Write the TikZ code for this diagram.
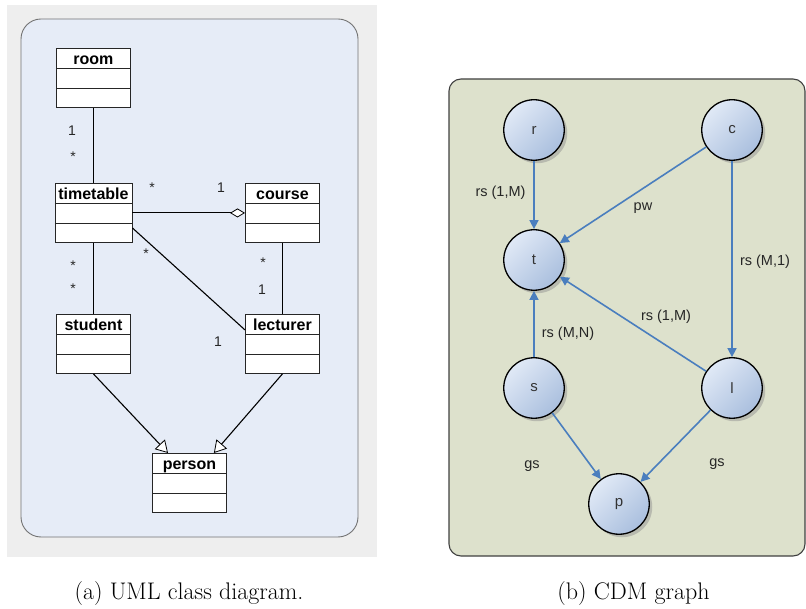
\documentclass[tikz,border=0pt]{standalone}
\usepackage{fontspec}
\newfontfamily\arial{Liberation Sans}
\usetikzlibrary{arrows.meta,shadows}
\definecolor{panelgray}{RGB}{238,238,238}
\definecolor{umlbg}{RGB}{230,236,247}
\definecolor{cdmbg}{RGB}{221,225,204}
\definecolor{edgeblue}{RGB}{74,126,190}
\definecolor{nodelight}{RGB}{224,233,246}
\definecolor{nodedark}{RGB}{170,191,222}
\begin{document}
\begin{tikzpicture}[x=1pt,y=-1pt,
  umlclass/.style={draw=black!85, fill=white, line width=0.9pt, anchor=north west,
    minimum width=74pt, inner xsep=0pt, inner ysep=0pt, text height=16pt, text depth=43pt,
    font=\arial\bfseries\fontsize{16}{16}\selectfont,
    path picture={\draw[line width=0.9pt,black!85]
      ([yshift=-20pt]path picture bounding box.north west) -- ([yshift=-20pt]path picture bounding box.north east)
      ([yshift=-40pt]path picture bounding box.north west) -- ([yshift=-40pt]path picture bounding box.north east);}},
  assoc/.style={draw=black, line width=1.1pt},
  gen/.style={assoc, -{Triangle[open,fill=white,length=12pt,width=14pt,line width=0.8pt]}},
  aggr/.style={assoc, -{Diamond[open,fill=white,length=15pt,width=9pt,line width=0.8pt]}},
  mult/.style={font=\arial\fontsize{14}{14}\selectfont, anchor=base, inner sep=0pt, text=black!85},
  cdm/.style={circle, draw=black, line width=1.3pt, minimum size=60.5pt, inner sep=0pt,
    top color=nodelight, bottom color=nodedark, shading angle=45,
    font=\arial\fontsize{15}{15}\selectfont, text=black!80,
    drop shadow={shadow xshift=3pt, shadow yshift=-3pt, fill=black!45, opacity=0.45}},
  cdmedge/.style={draw=edgeblue, line width=1.6pt, -{Triangle[length=9pt,width=9pt]}},
  lab/.style={font=\arial\fontsize{14.5}{14.5}\selectfont, inner sep=0pt, text=black!85},
  capt/.style={font=\fontsize{24}{28}\selectfont, anchor=base, inner sep=0pt}
]
\useasboundingbox (0,0) rectangle (806,609);

% panels
\fill[panelgray] (7,5) rectangle (377,557);
\draw[draw=black!55, fill=umlbg, rounded corners=20pt, line width=0.9pt] (21,19) rectangle (358,537);
\draw[draw=black!75, fill=cdmbg, rounded corners=12pt, line width=1.1pt] (449,79) rectangle (805,556);

% UML classes
\node[umlclass] (room) at (56,48) {room};
\node[umlclass, minimum width=77pt] (tt) at (54.5,183) {timetable};
\node[umlclass] (course) at (245,183) {course};
\node[umlclass] (student) at (56,314) {student};
\node[umlclass] (lect) at (245,314) {lecturer};
\node[umlclass] (person) at (152,453) {person};

% UML connectors
\draw[assoc] (room.south) -- (tt.north);
\draw[aggr] (tt.east) -- (course.west);
\draw[assoc] ([yshift=-15pt]tt.east) -- ([yshift=14pt]lect.west);
\draw[assoc] (course.south) -- (lect.north);
\draw[assoc] (tt.south) -- (student.north);
\draw[gen] (student.south) -- ([xshift=16pt]person.north west);
\draw[gen] (lect.south) -- ([xshift=-13pt]person.north east);

% multiplicities
\node[mult] (m1) at (72,136) {1};
\node[mult] (m2) at (73,162) {*};
\node[mult] (m3) at (152,193) {*};
\node[mult] (m4) at (221,193) {1};
\node[mult] (m5) at (146,259) {*};
\node[mult] (m6) at (263,268) {*};
\node[mult] (m7) at (262,295) {1};
\node[mult] (m8) at (73,271) {*};
\node[mult] (m9) at (73,294) {*};
\node[mult] (m10) at (218,347) {1};

% CDM graph
\node[cdm] (r) at (534,130) {r};
\node[cdm] (c) at (732,130) {c};
\node[cdm] (t) at (534,260) {t};
\node[cdm] (s) at (534,388) {s};
\node[cdm] (l) at (732,388) {l};
\node[cdm] (p) at (619,504) {p};

\draw[cdmedge] (r) -- (t);
\draw[cdmedge] (c) -- (t);
\draw[cdmedge] (c) -- (l);
\draw[cdmedge] (l) -- (t);
\draw[cdmedge] (s) -- (t);
\draw[cdmedge] (s) -- (p);
\draw[cdmedge] (l) -- (p);

\node[lab] (l1) at (500.5,193) {rs (1,M)};
\node[lab] (l2) at (643,208) {pw};
\node[lab] (l3) at (765,262) {rs (M,1)};
\node[lab] (l4) at (666,317) {rs (1,M)};
\node[lab] (l5) at (568,334) {rs (M,N)};
\node[lab] (l6) at (532,466) {gs};
\node[lab] (l7) at (717,464) {gs};

% captions
\node[capt] (capa) at (189,599) {(a) UML class diagram.};
\node[capt] (capb) at (633.5,599) {(b) CDM graph};
\end{tikzpicture}
\end{document}
